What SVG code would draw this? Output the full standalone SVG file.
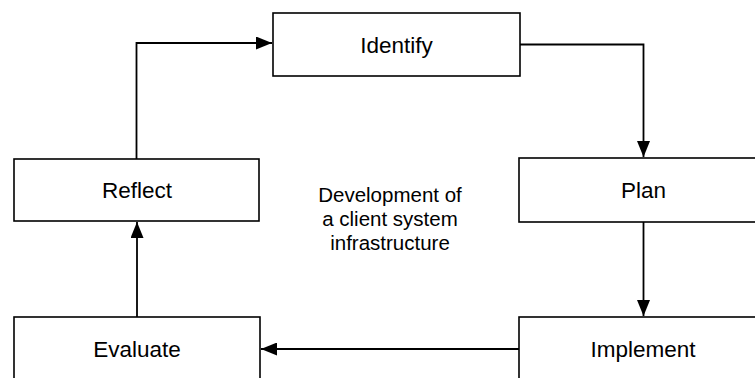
<svg xmlns="http://www.w3.org/2000/svg" width="755" height="378" viewBox="0 0 755 378">
<style>
.box{fill:#fff;stroke:#000;stroke-width:1.6}
.lbl{font-family:"Liberation Sans",Arial,Helvetica,sans-serif;font-size:22.5px;fill:#000;text-anchor:middle}
.ctr{font-family:"Liberation Sans",Arial,Helvetica,sans-serif;font-size:20.5px;fill:#000;text-anchor:middle}
.edge{fill:none;stroke:#000;stroke-width:1.8}
</style>
<defs>
<marker id="arr" markerUnits="userSpaceOnUse" markerWidth="17" markerHeight="13" refX="16" refY="6.5" orient="auto">
<path d="M0,0 L16,6.5 L0,13 Z" fill="#000"/>
</marker>
</defs>
<rect width="755" height="378" fill="#fff"/>
<g id="connectors">
<path class="edge" d="M136.5,159 V43 H272" marker-end="url(#arr)"/>
<path class="edge" d="M520,44.5 H643.5 V157" marker-end="url(#arr)"/>
<path class="edge" d="M643.5,222 V316" marker-end="url(#arr)"/>
<path class="edge" d="M519,349 H261" marker-end="url(#arr)"/>
<path class="edge" d="M137,317 V222" marker-end="url(#arr)"/>
</g>
<g id="identify">
<rect class="box" x="273" y="13" width="247" height="63"/>
<text class="lbl" x="396.5" y="52.5">Identify</text>
</g>
<g id="reflect">
<rect class="box" x="14" y="159" width="245" height="62"/>
<text class="lbl" x="137" y="197.5">Reflect</text>
</g>
<g id="plan">
<rect class="box" x="519" y="158" width="260" height="64"/>
<text class="lbl" x="643.5" y="197.5">Plan</text>
</g>
<g id="evaluate">
<rect class="box" x="14" y="317" width="246" height="80"/>
<text class="lbl" x="137" y="356.5">Evaluate</text>
</g>
<g id="implement">
<rect class="box" x="519" y="317" width="260" height="80"/>
<text class="lbl" x="643" y="356.5">Implement</text>
</g>
<g id="center-label">
<text class="ctr" x="390" y="202">Development of</text>
<text class="ctr" x="390" y="226">a client system</text>
<text class="ctr" x="390" y="250">infrastructure</text>
</g>
</svg>
